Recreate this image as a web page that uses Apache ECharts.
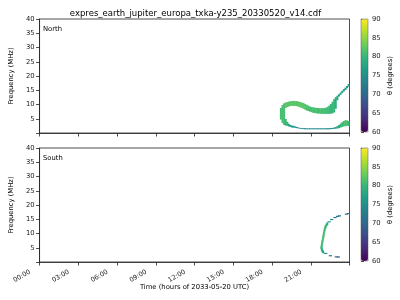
<!DOCTYPE html>
<html><head><meta charset="utf-8">
<script src="https://cdn.jsdelivr.net/npm/echarts/dist/echarts.min.js"></script>
<style>html,body{margin:0;padding:0;background:#fff}#c{width:400px;height:300px}</style>
</head><body><div id="c"></div>
<script>
const TITLE = 'expres_earth_jupiter_europa_txka-y235_20330520_v14.cdf';
const TIME_LABELS = ['00:00','03:00','06:00','09:00','12:00','15:00','18:00','21:00'];
const THETA_RANGE = [60, 90];
const FREQ_RANGE = [0, 40];
const TIME_RANGE = [0, 24];
const PANEL_NAMES = ['North', 'South'];
const VIRIDIS = ['#440154','#482878','#3e4989','#31688e','#26828e','#1f9e89','#35b779','#6ece58','#b5de2b','#fde725'];

// North: [time (h), f low (MHz), f high (MHz), theta (deg)], columns of 0.125 h
const northBand = [
  [18.625, 4.7, 8.8, 81], [18.750, 3.5, 9.8, 81], [18.875, 2.8, 10.4, 81],
  [19.000, 8.8, 10.7, 82], [19.000, 2.6, 4.9, 80],
  [19.125, 9.1, 10.9, 82], [19.125, 2.5, 3.9, 79],
  [19.250, 9.3, 11.0, 82], [19.250, 2.3, 3.2, 78],
  [19.375, 9.5, 11.2, 82], [19.375, 2.1, 2.8, 77],
  [19.500, 9.5, 11.2, 82], [19.500, 1.9, 2.6, 76],
  [19.625, 9.5, 11.3, 82], [19.625, 1.9, 2.5, 76],
  [19.750, 9.5, 11.2, 82], [19.750, 1.8, 2.3, 75],
  [19.875, 9.4, 11.2, 82], [19.875, 1.7, 2.1, 75],
  [20.000, 9.2, 11.0, 82], [20.000, 1.6, 1.9, 74],
  [20.125, 9.0, 10.9, 82], [20.125, 1.5, 1.8, 74],
  [20.250, 8.8, 10.7, 82], [20.250, 1.4, 1.7, 74],
  [20.375, 8.5, 10.5, 82], [20.375, 1.35, 1.7, 74],
  [20.500, 8.2, 10.2, 82], [20.500, 1.3, 1.7, 74],
  [20.625, 7.9, 9.9, 81], [20.625, 1.3, 1.65, 74],
  [20.750, 7.7, 9.6, 81], [20.750, 1.3, 1.65, 74],
  [20.875, 7.5, 9.3, 81], [20.875, 1.3, 1.65, 74],
  [21.000, 7.3, 9.1, 81], [21.000, 1.3, 1.65, 74],
  [21.125, 7.1, 9.0, 81], [21.125, 1.3, 1.65, 74],
  [21.250, 7.0, 8.9, 81], [21.250, 1.3, 1.65, 74],
  [21.375, 6.9, 8.8, 81], [21.375, 1.3, 1.65, 74],
  [21.500, 6.8, 8.8, 81], [21.500, 1.3, 1.65, 74],
  [21.625, 6.8, 8.7, 81], [21.625, 1.3, 1.65, 74],
  [21.750, 6.7, 8.7, 81], [21.750, 1.3, 1.65, 74],
  [21.875, 6.7, 8.7, 81], [21.875, 1.3, 1.65, 74],
  [22.000, 6.7, 8.8, 81], [22.000, 1.3, 1.65, 74],
  [22.125, 6.7, 8.9, 81], [22.125, 1.3, 1.65, 74],
  [22.250, 6.7, 9.2, 81], [22.250, 1.3, 1.7, 74],
  [22.375, 6.7, 9.6, 80], [22.375, 1.3, 1.7, 75],
  [22.500, 6.8, 10.2, 80], [22.500, 1.35, 1.75, 75],
  [22.625, 6.9, 11.0, 80], [22.625, 1.4, 1.8, 75],
  [22.750, 7.2, 11.9, 80], [22.750, 1.45, 1.9, 76],
  [22.875, 8.5, 12.6, 79], [22.875, 1.5, 2.1, 77],
  [23.000, 11.5, 13.1, 78], [23.000, 1.6, 2.4, 78],
  [23.125, 12.8, 13.6, 77], [23.125, 1.7, 2.8, 79],
  [23.250, 13.4, 14.2, 77], [23.250, 1.9, 3.3, 80],
  [23.375, 14.0, 14.8, 77], [23.375, 2.1, 3.8, 80],
  [23.500, 14.6, 15.4, 76], [23.500, 2.3, 4.2, 81],
  [23.625, 15.1, 15.9, 76], [23.625, 2.4, 4.5, 81],
  [23.750, 15.7, 16.5, 76], [23.750, 2.5, 4.4, 81],
  [23.875, 16.3, 17.2, 76], [23.875, 2.5, 4.2, 80]
];
// South, continuous arc: [time (h), freq (MHz), theta (deg)]
const southArc = [
  [22.28, 13.4, 78], [22.22, 13.0, 79], [22.16, 12.5, 80], [22.12, 12.0, 80],
  [22.08, 11.4, 80], [22.05, 10.8, 81], [22.02, 10.2, 81], [22.00, 9.6, 81],
  [21.98, 9.0, 81], [21.96, 8.4, 81], [21.93, 7.8, 81], [21.90, 7.2, 81],
  [21.88, 6.6, 81], [21.86, 6.0, 81], [21.84, 5.4, 80], [21.83, 4.9, 80],
  [21.86, 4.4, 79], [21.90, 3.9, 78], [21.96, 3.5, 76]
];
// South, sparse (dashed) parts: [time (h), freq (MHz), theta (deg)]
const southDashes = [
  [23.92, 17.0, 71], [23.76, 16.8, 71],
  [23.22, 16.2, 72], [23.08, 16.0, 72],
  [22.88, 15.6, 73], [22.62, 14.9, 74], [22.42, 14.1, 75],
  [22.16, 3.0, 74], [22.52, 2.2, 72],
  [22.98, 1.8, 70], [23.14, 1.75, 69]
];

const STEP = 0.125;
const FONT = 'DejaVu Sans';
const AXC = '#222';
const PANELS = [{top: 19}, {top: 148}];
const PH = 114, PL = 31.5, PW = 318;

const chart = echarts.init(document.getElementById('c'), null, {renderer: 'canvas'});

const grids = [], xAxes = [], yAxes = [], visualMaps = [];
PANELS.forEach((p, i) => {
  grids.push({left: PL, top: p.top, width: PW, height: PH, show: true, borderColor: AXC, borderWidth: 0.8, backgroundColor: 'transparent'});
  xAxes.push({
    gridIndex: i, type: 'value', min: TIME_RANGE[0], max: TIME_RANGE[1], interval: 3,
    axisLine: {show: true, lineStyle: {color: AXC, width: 0.8}},
    axisTick: {show: true, length: 3.5, lineStyle: {color: AXC, width: 0.8}},
    splitLine: {show: false},
    axisLabel: {show: i === 1, rotate: 30, fontSize: 6.5, color: '#222', fontFamily: FONT, margin: 4,
      padding: [0, 11, 0, 0],
      formatter: v => TIME_LABELS[v / 3] || ''},
    name: i === 1 ? 'Time (hours of 2033-05-20 UTC)' : '', nameLocation: 'middle', nameGap: 22,
    nameMoveOverlap: false,
    nameTextStyle: {fontSize: 6.8, color: '#000', fontFamily: FONT}
  });
  yAxes.push({
    gridIndex: i, type: 'value', min: FREQ_RANGE[0], max: FREQ_RANGE[1], interval: 5,
    axisLine: {show: true, lineStyle: {color: AXC, width: 0.8}},
    axisTick: {show: true, length: 3.5, lineStyle: {color: AXC, width: 0.8}},
    splitLine: {show: false},
    axisLabel: {fontSize: 6.8, color: '#222', fontFamily: FONT, margin: 5, formatter: v => v === 0 ? '' : String(v)},
    name: 'Frequency (MHz)', nameLocation: 'middle', nameGap: 19,
    nameTextStyle: {fontSize: 6.8, color: '#000', fontFamily: FONT}
  });
});
// colorbar axes
PANELS.forEach((p, i) => {
  grids.push({left: 361, top: p.top, width: 7, height: PH - 1, show: true, borderColor: '#555', borderWidth: 0.5, backgroundColor: 'transparent', z: 5});
  xAxes.push({gridIndex: 2 + i, type: 'value', show: false, min: 0, max: 1});
  yAxes.push({
    gridIndex: 2 + i, type: 'value', position: 'right', min: THETA_RANGE[0], max: THETA_RANGE[1], interval: 5,
    axisLine: {show: false}, splitLine: {show: false},
    axisTick: {show: true, length: 3, lineStyle: {color: AXC, width: 0.8}},
    axisLabel: {fontSize: 6.8, color: '#222', fontFamily: FONT, margin: 4},
    name: 'θ (degrees)', nameLocation: 'middle', nameGap: 19, nameRotate: 90,
    nameTextStyle: {fontSize: 6.8, color: '#000', fontFamily: FONT}
  });
});
visualMaps.push(
  {type: 'continuous', min: THETA_RANGE[0], max: THETA_RANGE[1], dimension: 3, seriesIndex: [0],
   inRange: {color: VIRIDIS}, calculable: false, hoverLink: false, left: 361, top: PANELS[0].top,
   itemWidth: 7, itemHeight: PH - 1, padding: 0, text: null, orient: 'vertical', z: 4},
  {type: 'continuous', min: THETA_RANGE[0], max: THETA_RANGE[1], dimension: 2, seriesIndex: [1, 2],
   inRange: {color: VIRIDIS}, calculable: false, hoverLink: false, left: 361, top: PANELS[1].top,
   itemWidth: 7, itemHeight: PH - 1, padding: 0, text: null, orient: 'vertical', z: 4}
);

chart.setOption({
  animation: false,
  backgroundColor: '#fff',
  title: {text: TITLE, left: PL + PW / 2, top: 4, textAlign: 'center',
    textStyle: {fontSize: 8.5, fontWeight: 'normal', color: '#000', fontFamily: FONT}},
  grid: grids, xAxis: xAxes, yAxis: yAxes, visualMap: visualMaps,
  graphic: PANEL_NAMES.map((n, i) => ({type: 'text', left: 43, top: PANELS[i].top + 7,
    style: {text: n, fontSize: 6.8, fill: '#000', fontFamily: FONT}})),
  series: [
    {
      type: 'custom', xAxisIndex: 0, yAxisIndex: 0, data: northBand, encode: {x: 0, y: [1, 2]}, clip: true,
      renderItem: (params, api) => {
        const t = api.value(0), lo = api.value(1), hi = api.value(2);
        const a = api.coord([t, hi]), b = api.coord([t + STEP, lo]);
        return {type: 'rect', shape: {x: a[0] - 0.2, y: a[1], width: b[0] - a[0] + 0.4, height: b[1] - a[1]},
          style: {fill: api.visual('color'), lineWidth: 0}};
      }
    },
    {
      type: 'scatter', xAxisIndex: 1, yAxisIndex: 1, data: southArc, symbol: 'rect', symbolSize: [2, 2.6],
      itemStyle: {opacity: 1}
    },
    {
      type: 'scatter', xAxisIndex: 1, yAxisIndex: 1, data: southDashes, symbol: 'rect', symbolSize: [3.2, 1.2],
      itemStyle: {opacity: 1}
    }
  ]
});
</script></body></html>
